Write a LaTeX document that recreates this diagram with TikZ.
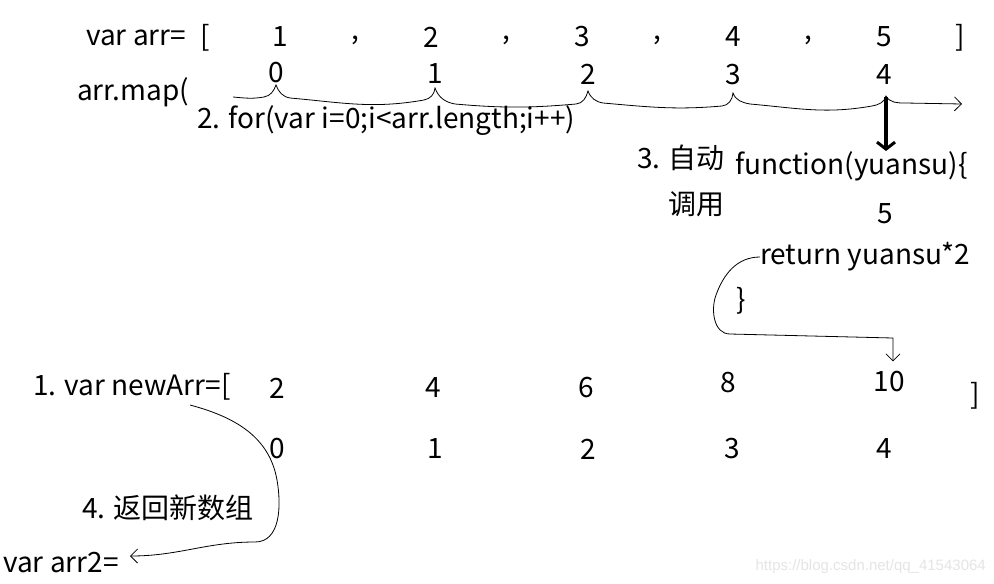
\documentclass[tikz,border=0pt]{standalone}
\usepackage{fontspec}
\setmainfont{Noto Sans CJK SC}
\newfontfamily\wmfont{Liberation Sans}
\usetikzlibrary{arrows.meta}

\begin{document}
\begin{tikzpicture}[x=1pt,y=-1pt,
	every node/.style={inner sep=0pt,font=\fontsize{28}{32}\selectfont},
	lbl/.style={anchor=west},
	hand/.style={line width=0.8pt,-{Straight Barb[length=7pt,width=14pt]}}]
	\useasboundingbox[fill=white] (0,0) rectangle (994,584);
	% the array
	\node[lbl] (arr) at (86,38) {var arr=};
	\node (lb) at (205,38) {[};
	\node (a1) at (280,37) {1};
	\node (a2) at (431,37) {2};
	\node (a3) at (582,37) {3};
	\node (a4) at (733,37) {4};
	\node (a5) at (884,37) {5};
	\foreach \x in {355,506,657,808}
		\node at (\x,40) {,};
	\node (rb) at (960,38) {]};
	\node[lbl] (map) at (77,92) {arr.map(};
		\node (m0) at (276,73) {0};
		\node (m1) at (435,74) {1};
		\node (m2) at (588,74) {2};
		\node (m3) at (733,75) {3};
		\node (m4) at (884,75) {4};
	\node[lbl] (loop) at (197,121) {2. for(var i=0;i<arr.length;i++)};
	\coordinate (st) at (233,97);
	\coordinate (en) at (962,104);
	\draw[hand] (st) to[out=-5,in=190] (264,97) to[out=10,in=250] (276,85)
		to[out=-70,in=170] (290,98) to[out=-5,in=190] (424,100) to[out=10,in=265] (435,88)
		to[out=-70,in=170] (455,104) to[out=-5,in=185] (576,104) to[out=5,in=255] (588,91)
		to[out=-70,in=170] (603,103) to[out=-5,in=185] (722,106) to[out=5,in=265] (733,93)
		to[out=-70,in=170] (750,104) to[out=-5,in=190] (872,106) to[out=10,in=255] (886,96)
		to[out=-60,in=180] (905,103) -- (en);
	% the callback
	\node[lbl] (auto1) at (637,158) {3. 自动};
	\node[lbl] (auto2) at (668,204) {调用};
	\node[lbl] (fn) at (735,166) {function(yuansu)\{};
	\node (v5) at (885,214) {5};
	\node[lbl] (ret) at (760,257) {return yuansu*2};
	\node (cb) at (741,301) {\}};
	\draw[line width=4pt,-{Straight Barb[length=7pt,width=18pt,line width=3pt]}]
		(886,97) -- (886,151);
	% the new array
	\node[lbl] (newarr) at (33,387) {1. var newArr=[};
	\node (n0) at (277,388) {2};
	\node (n1) at (433,388) {4};
	\node (n2) at (586,388) {6};
	\node (n3) at (728,383) {8};
	\node (n4) at (889,382) {10};
	\node (nb) at (975,396) {]};
		\node (k0) at (277,449) {0};
		\node (k1) at (435,449) {1};
		\node (k2) at (588,449) {2};
		\node (k3) at (732,449) {3};
		\node (k4) at (884,449) {4};
	\draw[hand] (ret.west) to[out=180,in=70] (716,295) to[out=250,in=180] (730,334)
		-- (893,338) -- ([xshift=4,yshift=10]n4.north);
	\node[lbl] (back) at (82,508) {4. 返回新数组};
	\node[lbl] (arr2) at (3,563) {var arr2=};
	\draw[hand] (190,405) to[out=-15,in=100] (277,480)
		to[out=-80,in=0] (255,542) to[out=180,in=0] (130,556);
	\node[anchor=east,text=black!10,font=\wmfont\fontsize{15}{18}\selectfont] (wm) at (986,567) {https://blog.csdn.net/qq\_41543064};
\end{tikzpicture}
\end{document}
